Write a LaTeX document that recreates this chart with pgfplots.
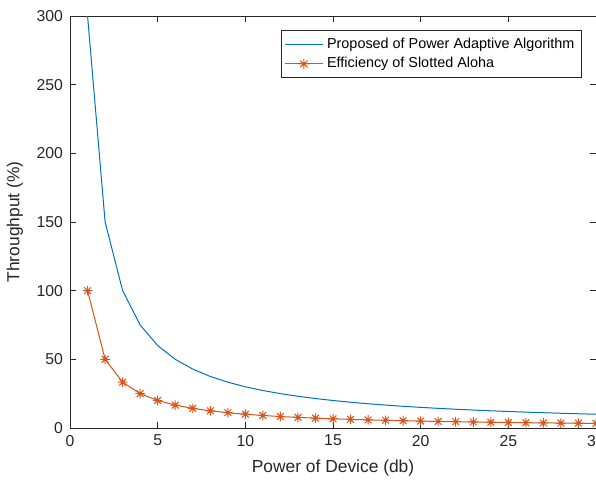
\documentclass[border=0pt]{standalone}
\usepackage{fontspec}
\setmainfont{Liberation Sans}
\usepackage{pgfplots}
\pgfplotsset{compat=1.18}
\definecolor{mblue}{rgb}{0,0.447,0.741}
\definecolor{morange}{rgb}{0.85,0.325,0.098}
\definecolor{maxis}{rgb}{0.15,0.15,0.15}
% MATLAB-style eight-armed asterisk
\pgfdeclareplotmark{mstar}{%
  \pgfpathmoveto{\pgfqpoint{-\pgfplotmarksize}{0pt}}\pgfpathlineto{\pgfqpoint{\pgfplotmarksize}{0pt}}%
  \pgfpathmoveto{\pgfqpoint{0pt}{-\pgfplotmarksize}}\pgfpathlineto{\pgfqpoint{0pt}{\pgfplotmarksize}}%
  \pgfpathmoveto{\pgfqpoint{-0.7071\pgfplotmarksize}{-0.7071\pgfplotmarksize}}\pgfpathlineto{\pgfqpoint{0.7071\pgfplotmarksize}{0.7071\pgfplotmarksize}}%
  \pgfpathmoveto{\pgfqpoint{-0.7071\pgfplotmarksize}{0.7071\pgfplotmarksize}}\pgfpathlineto{\pgfqpoint{0.7071\pgfplotmarksize}{-0.7071\pgfplotmarksize}}%
  \pgfusepathqstroke}
\begin{document}
\begin{tikzpicture}[trim axis right]
\begin{axis}[
    name=ax,
    scale only axis,
    width=263pt, height=206pt,
    xmin=0, xmax=30, ymin=0, ymax=300,
    xtick={0,5,...,30}, ytick={0,50,...,300},
    tick align=inside,
    major tick length=3pt,
    axis line style={maxis, line width=0.4pt},
    every tick/.style={maxis, line width=0.4pt},
    tick label style={font=\fontsize{7.9}{9}\selectfont, text=maxis},
    label style={font=\fontsize{8.7}{10}\selectfont, text=maxis},
    /pgf/number format/assume math mode=true,
    xlabel={Power of Device (db)},
    ylabel={Throughput (\%)},
    legend style={at={(0.973,0.965)}, anchor=north east, draw=maxis,
        font=\fontsize{7.2}{8.5}\selectfont, cells={anchor=west},
        inner sep=1.5pt, row sep=-1pt},
    legend cell align=left,
    legend image post style={xscale=1.1},
    clip=true,
]
\addplot[mblue, line width=0.5pt] coordinates {
(1,300) (2,150) (3,100) (4,75) (5,60) (6,50) (7,42.86) (8,37.5) (9,33.33) (10,30)
(11,27.27) (12,25) (13,23.08) (14,21.43) (15,20) (16,18.75) (17,17.65) (18,16.67) (19,15.79) (20,15)
(21,14.29) (22,13.64) (23,13.04) (24,12.5) (25,12) (26,11.54) (27,11.11) (28,10.71) (29,10.34) (30,10)};
\addlegendentry{Proposed of Power Adaptive Algorithm}
\addplot[morange, line width=0.5pt, mark=mstar, mark size=2.4pt, mark options={line width=0.5pt}] coordinates {
(1,100) (2,50) (3,33.33) (4,25) (5,20) (6,16.67) (7,14.29) (8,12.5) (9,11.11) (10,10)
(11,9.09) (12,8.33) (13,7.69) (14,7.14) (15,6.67) (16,6.25) (17,5.88) (18,5.56) (19,5.26) (20,5)
(21,4.76) (22,4.55) (23,4.35) (24,4.17) (25,4) (26,3.85) (27,3.7) (28,3.57) (29,3.45) (30,3.33)};
\addlegendentry{Efficiency of Slotted Aloha}
\end{axis}
\path (ax.north west) ++(0,8pt);
\end{tikzpicture}
\end{document}
